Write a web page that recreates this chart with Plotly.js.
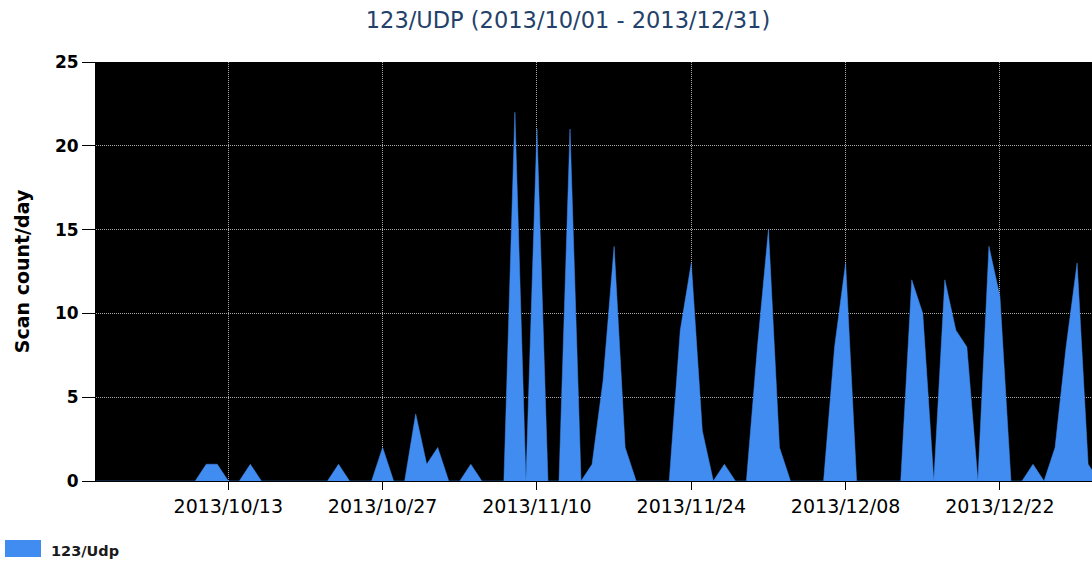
<!DOCTYPE html>
<html>
<head>
<meta charset="utf-8">
<script src="https://cdn.plot.ly/plotly-3.0.1.min.js"></script>
<style>
  html, body { margin: 0; padding: 0; background: #fff; }
  #chart { width: 1092px; height: 565px; }
</style>
</head>
<body>
<div id="chart"></div>
<script>
// ── Data ──────────────────────────────────────────────────────────────────────
const seriesName = '123/Udp';
const startDate  = '2013-10-01';
// daily scan counts, 2013/10/01 .. 2013/12/31
const scanCounts = [
  0, 0, 0, 0, 0, 0, 0, 0, 0, 0,    // 10/01 - 10/10
  1, 1, 0, 0, 1, 0, 0, 0, 0, 0,    // 10/11 - 10/20
  0, 0, 1, 0, 0, 0, 2, 0, 0, 4,    // 10/21 - 10/30
  1, 2, 0, 0, 1, 0, 0, 0, 22, 0,   // 10/31 - 11/09
  21, 0, 0, 21, 0, 1, 6, 14, 2, 0, // 11/10 - 11/19
  0, 0, 0, 9, 13, 3, 0, 1, 0, 0,   // 11/20 - 11/29
  8, 15, 2, 0, 0, 0, 0, 8, 13, 0,  // 11/30 - 12/09
  0, 0, 0, 0, 12, 10, 0, 12, 9, 8, // 12/10 - 12/19
  0, 14, 11, 0, 0, 1, 0, 2, 8, 13, // 12/20 - 12/29
  1, 0                             // 12/30 - 12/31
];
const tickStart = '2013-10-13';
const tickDays  = 14;

// ── Build dates ───────────────────────────────────────────────────────────────
const DAY_MS = 86400000;
const t0 = Date.parse(startDate + 'T00:00:00Z');
const dates = scanCounts.map((_, i) => new Date(t0 + i * DAY_MS).toISOString().slice(0, 10));

const BLUE = '#418cf0';
const FONT = 'DejaVu Sans, Tahoma, Verdana, sans-serif';
const GRID = { showgrid: true, gridcolor: '#a8a8a8', griddash: '1px,1px', gridwidth: 1 };

const trace = {
  x: dates, y: scanCounts, name: seriesName,
  type: 'scatter', mode: 'lines',
  fill: 'tozeroy', fillcolor: BLUE,
  line: { color: BLUE, width: 0.5 },
  showlegend: false,
};

// plot area in px: left 96, top 62, right 1092, bottom 481
const PW = 996, PH = 419;

Plotly.newPlot('chart', [trace], {
  width: 1092, height: 565,
  margin: { l: 96, r: 0, t: 62, b: 84 },
  paper_bgcolor: '#fff',
  plot_bgcolor: '#000',
  title: {
    text: '123/UDP (2013/10/01 - 2013/12/31)',
    font: { family: FONT, size: 22.5, color: '#24416a' },
    x: 568 / 1092, xanchor: 'center', xref: 'container',
    y: 1 - 20 / 565, yanchor: 'middle', yref: 'container',
  },
  xaxis: {
    type: 'date',
    range: [startDate, '2013-12-30 08:24'],
    tick0: tickStart, dtick: tickDays * DAY_MS,
    tickformat: '%Y/%m/%d',
    ticks: 'outside', ticklen: 8, tickcolor: '#000', tickwidth: 1,
    tickfont: { family: FONT, size: 19, color: '#000' },
    showline: true, linecolor: '#000', linewidth: 1,
    ...GRID,
    zeroline: false, fixedrange: true,
  },
  yaxis: {
    range: [0, 25], dtick: 5,
    ticks: 'outside', ticklen: 13, tickcolor: '#000', tickwidth: 1,
    tickfont: { family: FONT, size: 17, color: '#000', weight: 'bold' },
    showline: true, linecolor: '#000', linewidth: 1,
    ...GRID,
    zeroline: false, fixedrange: true,
    title: {
      text: 'Scan count/day', standoff: 20,
      font: { family: FONT, size: 19, color: '#000', weight: 'bold' },
    },
  },
  shapes: [{
    type: 'rect', xref: 'paper', yref: 'paper',
    x0: (5 - 96) / PW, x1: (41 - 96) / PW,
    y0: (481 - 557) / PH, y1: (481 - 540) / PH,
    fillcolor: BLUE, line: { width: 0 },
  }],
  annotations: [{
    text: seriesName, xref: 'paper', yref: 'paper',
    x: (49 - 96) / PW, y: (481 - 551) / PH,
    xanchor: 'left', yanchor: 'middle', showarrow: false,
    font: { family: FONT, size: 14.5, color: '#1a1a1a', weight: 'bold' },
  }],
}, { displayModeBar: false, staticPlot: true });
</script>
</body>
</html>
